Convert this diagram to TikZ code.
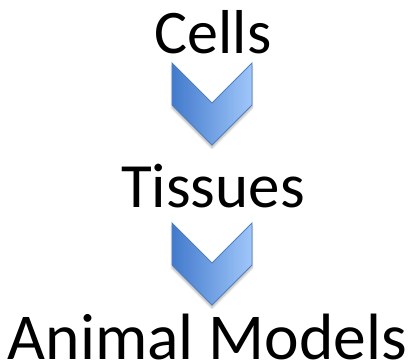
\documentclass[tikz,border=0pt]{standalone}
\usepackage{fontspec}
\setmainfont{Carlito}
\usetikzlibrary{shadows.blur}
\definecolor{chevL}{RGB}{66,122,204}
\definecolor{chevR}{RGB}{160,199,250}
\definecolor{chevB}{RGB}{80,128,190}
\tikzset{
  lbl/.style={anchor=base, inner sep=0pt, text depth=0pt},
  chev/.style={draw=chevB, line width=0.8pt, line join=miter, left color=chevL, right color=chevR,
    blur shadow={shadow xshift=0pt, shadow yshift=-3pt, shadow blur steps=8, shadow opacity=30}},
}
\begin{document}
\begin{tikzpicture}[x=1pt,y=-1pt]
\useasboundingbox (0,0) rectangle (415,364);
\node[lbl, font=\fontsize{62}{72}\selectfont] (cells) at (213,53) {Cells};
\node[lbl, font=\fontsize{63}{72}\selectfont] (tissues) at (213,207.5) {Tissues};
\node[lbl, font=\fontsize{65.5}{80}\selectfont] (animal) at (207.5,359.3) {Animal Models};
\coordinate (c1) at (212,63);
\coordinate (c2) at (212,223);
\foreach \c in {c1,c2}{
  \draw[chev] ([xshift=-40]\c) -- ([xshift=-40,yshift=-42]\c) -- ([yshift=-82]\c)
     -- ([xshift=40,yshift=-42]\c) -- ([xshift=40]\c) -- ([yshift=-40]\c) -- cycle;
}
\end{tikzpicture}
\end{document}
